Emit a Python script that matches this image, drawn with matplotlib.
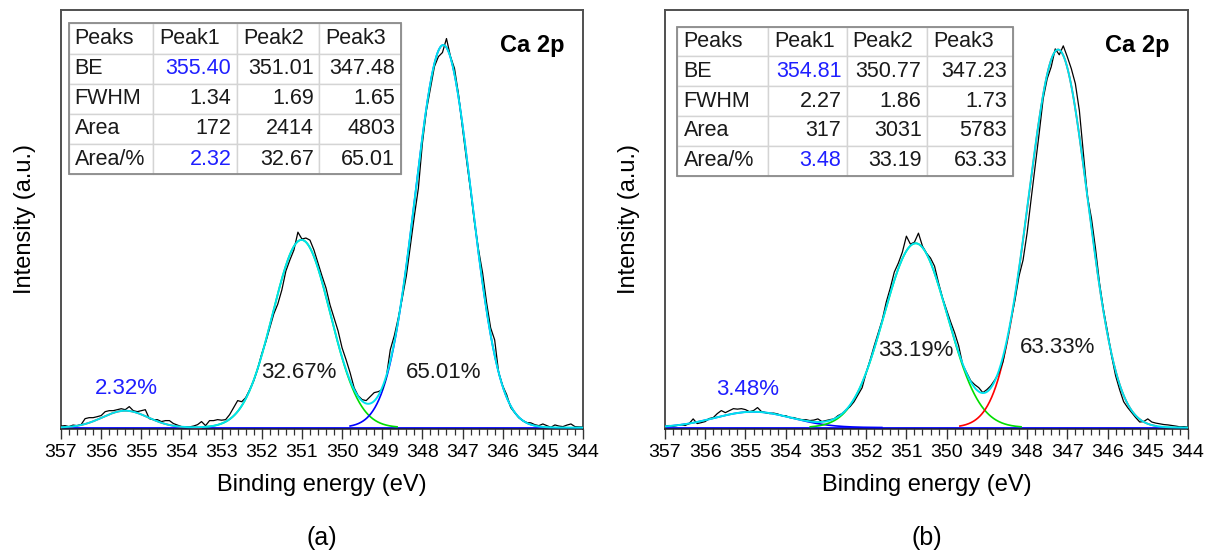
"""
    Ca 2p XPS spectra with peak fitting, samples (a) and (b)
"""

from matplotlib import pyplot as plt
from matplotlib.patches import Rectangle
import numpy as np

plt.rcParams['font.family'] = ['Liberation Sans', 'DejaVu Sans']

# binding energy grid of the measured spectra (eV), 357.0 -> 344.0 in 0.1 steps
energy = np.round(np.arange(3570, 3439, -1) / 10.0, 1)

# measured intensity (counts), sample (a)
raw_a = [
    11, 14, 7, 18, 14, 21, 64, 71, 71, 78,
    86, 114, 121, 121, 128, 135, 128, 150, 121, 114,
    121, 128, 64, 57, 57, 43, 50, 50, 29, 18,
    7, 7, 5, 11, 21, 43, 14, 50, 50, 57,
    53, 57, 93, 143, 193, 185, 214, 271, 335, 421,
    528, 613, 713, 813, 884, 984, 1119, 1198, 1269, 1397,
    1348, 1355, 1340, 1269, 1176, 1084, 998, 877, 784, 692,
    570, 485, 392, 285, 228, 200, 193, 221, 250, 257,
    271, 357, 556, 656, 784, 927, 1084, 1298, 1512, 1711,
    2032, 2267, 2424, 2581, 2652, 2681, 2781, 2652, 2567, 2381,
    2139, 1911, 1697, 1462, 1269, 1105, 891, 713, 627, 392,
    299, 235, 143, 107, 71, 50, 36, 34, 21, 14,
    26, 14, 2, 19, 11, 7, 18, 26, 7, 5,
    4,
]

# measured intensity (counts), sample (b)
raw_b = [
    8, 17, 12, 17, 25, 17, 33, 72, 33, 41,
    50, 75, 83, 116, 141, 124, 141, 157, 153, 157,
    149, 132, 141, 166, 132, 124, 116, 120, 113, 99,
    99, 83, 83, 72, 66, 66, 58, 62, 72, 50,
    58, 66, 72, 99, 116, 147, 174, 215, 273, 331,
    455, 563, 679, 787, 894, 1043, 1159, 1292, 1366, 1457,
    1590, 1524, 1540, 1615, 1507, 1449, 1408, 1341, 1201, 1076,
    977, 878, 787, 679, 522, 455, 389, 356, 331, 290,
    315, 348, 397, 455, 546, 712, 894, 1060, 1259, 1391,
    1615, 1896, 2169, 2443, 2732, 2898, 2997, 3146, 3097, 3171,
    3080, 2981, 2857, 2633, 2277, 1921, 1739, 1490, 1201, 977,
    795, 596, 431, 315, 215, 166, 124, 83, 46, 50,
    72, 46, 37, 31, 25, 22, 17, 12, 6, 8,
    4,
]

# fitted peak parameters
peak_names = ["Peak1", "Peak2", "Peak3"]
be_a = [355.40, 351.01, 347.48]
fwhm_a = [1.34, 1.69, 1.65]
area_a = [172, 2414, 4803]
area_pct_a = [2.32, 32.67, 65.01]

be_b = [354.81, 350.77, 347.23]
fwhm_b = [2.27, 1.86, 1.73]
area_b = [317, 3031, 5783]
area_pct_b = [3.48, 33.19, 63.33]

BLUE_TXT = "#1f1fff"
CYAN = "#00e3ee"


def gauss(x, center, fwhm, area):
    sigma = fwhm / (2 * np.sqrt(2 * np.log(2)))
    return area / (sigma * np.sqrt(2 * np.pi)) * np.exp(-0.5 * ((x - center) / sigma) ** 2)


def draw_panel(ax, raw, be, fwhm, area, pct, comp_colors, ylim, table_box, col_w,
               pct_pos, letter):
    x_fit = np.linspace(357, 344, 1301)
    comps = [gauss(x_fit, c, w, a) for c, w, a in zip(be, fwhm, area)]
    envelope = np.sum(comps, axis=0)

    ax.plot([357, 344], [0, 0], color="#0000ff", lw=2.0, zorder=2)
    for comp, col in zip(comps, comp_colors):
        comp = np.where(comp > comp.max() * 0.004, comp, np.nan)
        ax.plot(x_fit, comp, color=col, lw=1.2, zorder=3)
    ax.plot(energy, raw, color="black", lw=0.9, zorder=4)
    ax.plot(x_fit, envelope, color=CYAN, lw=1.4, zorder=5)

    ax.set_xlim(357, 344)
    ax.set_ylim(*ylim)
    ax.set_xticks(np.arange(357, 343, -1))
    ax.set_xticks(np.arange(357, 344, -0.2), minor=True)
    ax.set_yticks([])
    ax.tick_params(axis="x", which="major", length=7, width=1.0, labelsize=14,
                   direction="out", color="#333333", pad=4)
    ax.tick_params(axis="x", which="minor", length=4, width=0.9, direction="out",
                   color="#333333")
    for sp in ax.spines.values():
        sp.set_color("#505050")
        sp.set_linewidth(1.4)
    ax.spines["bottom"].set_color("#222222")
    ax.spines["bottom"].set_linewidth(1.1)
    ax.set_xlabel("Binding energy (eV)", fontsize=17, labelpad=9)
    ax.set_ylabel("Intensity (a.u.)", fontsize=17, labelpad=18)

    ax.text(0.965, 0.915, "Ca 2p", transform=ax.transAxes, fontsize=17,
            fontweight="bold", ha="right", va="center")

    # percentage labels
    for i, (p, (xp, yp)) in enumerate(zip(pct, pct_pos)):
        ax.text(xp, yp, f"{p:.2f}%", fontsize=16, ha="center", va="center",
                color=BLUE_TXT if i == 0 else "#1a1a1a", zorder=6)

    # fit parameter table
    rows = [["Peaks"] + peak_names,
            ["BE"] + [f"{v:.2f}" for v in be],
            ["FWHM"] + [f"{v:.2f}" for v in fwhm],
            ["Area"] + [f"{v:d}" for v in area],
            ["Area/%"] + [f"{v:.2f}" for v in pct]]
    tbl = ax.table(cellText=rows, colWidths=col_w, bbox=table_box, zorder=7)
    tbl.auto_set_font_size(False)
    tbl.set_fontsize(15.5)
    for (r, c), cell in tbl.get_celld().items():
        cell.set_edgecolor("#d4d4d4")
        cell.set_linewidth(1.0)
        cell.PAD = 0.07
        txt = cell.get_text()
        txt.set_color("#1a1a1a")
        if c == 0 or r == 0:
            cell.set_text_props(ha="left")
            cell._loc = "left"
        else:
            cell.set_text_props(ha="right")
            cell._loc = "right"
        if c == 1 and r in (1, 4):
            txt.set_color(BLUE_TXT)
    ax.add_patch(Rectangle((table_box[0], table_box[1]), table_box[2], table_box[3],
                           transform=ax.transAxes, fill=False, ec="#8a8a8a",
                           lw=1.3, zorder=8))

    ax.text(0.5, -0.26, letter, transform=ax.transAxes, fontsize=18,
            ha="center", va="center")


def draw_fig():
    fig = plt.figure(figsize=(12.1, 5.54), dpi=100)
    ax1 = fig.add_axes([61 / 1210, 125 / 554, 522 / 1210, 419 / 554])
    ax2 = fig.add_axes([665 / 1210, 125 / 554, 523 / 1210, 419 / 554])

    draw_panel(ax1, raw_a, be_a, fwhm_a, area_a, area_pct_a,
               ["#ff0000", "#00dd00", "#0000ff"], (-10, 2985),
               [0.0148, 0.608, 0.636, 0.360], [84.7, 83.8, 82.3, 81.3],
               [(355.36, 283), (351.07, 397), (347.46, 397)], "(a)")
    draw_panel(ax2, raw_b, be_b, fwhm_b, area_b, area_pct_b,
               ["#0000ff", "#00dd00", "#ff0000"], (-12, 3469),
               [0.0235, 0.6045, 0.642, 0.356], [91.0, 78.6, 80.2, 85.9],
               [(354.94, 315), (350.76, 637), (347.23, 662)], "(b)")

    plt.savefig("out.png", dpi=100)


if __name__ == "__main__":
    draw_fig()
